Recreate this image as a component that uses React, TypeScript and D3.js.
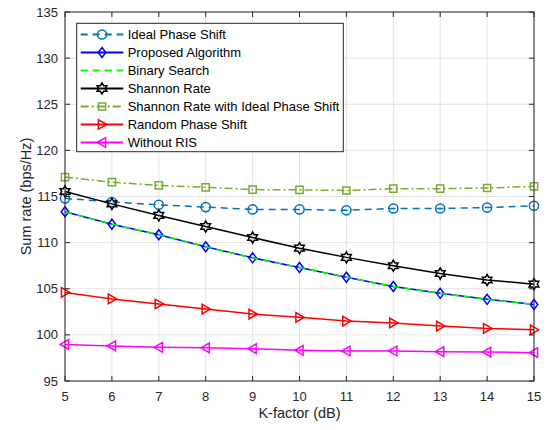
import React from "react";
import * as d3 from "d3";

const kFactor = [5, 6, 7, 8, 9, 10, 11, 12, 13, 14, 15];
const idealPhaseShift = [114.8, 114.4, 114.1, 113.85, 113.6, 113.6, 113.5, 113.7, 113.7, 113.8, 114.0];
const proposedAlgorithm = [113.35, 112.0, 110.85, 109.55, 108.35, 107.3, 106.25, 105.25, 104.5, 103.85, 103.3];
const binarySearch = [113.35, 112.0, 110.85, 109.55, 108.35, 107.3, 106.25, 105.25, 104.5, 103.85, 103.3];
const shannonRate = [115.55, 114.2, 112.95, 111.75, 110.55, 109.4, 108.4, 107.5, 106.65, 105.95, 105.5];
const shannonIdeal = [117.1, 116.55, 116.2, 116.0, 115.75, 115.72, 115.65, 115.85, 115.85, 115.92, 116.1];
const randomPhaseShift = [104.6, 103.9, 103.35, 102.8, 102.25, 101.9, 101.5, 101.3, 100.95, 100.7, 100.55];
const withoutRIS = [98.97, 98.8, 98.65, 98.6, 98.5, 98.32, 98.25, 98.25, 98.18, 98.14, 98.07];

const xTicks = [5, 6, 7, 8, 9, 10, 11, 12, 13, 14, 15];
const yTicks = [95, 100, 105, 110, 115, 120, 125, 130, 135];

type Marker = "circle" | "diamond" | "none" | "hexagram" | "square" | "triRight" | "triLeft";

const series: { name: string; values: number[]; color: string; dash: string; marker: Marker }[] = [
  { name: "Ideal Phase Shift", values: idealPhaseShift, color: "#0072BD", dash: "7,5", marker: "circle" },
  { name: "Proposed Algorithm", values: proposedAlgorithm, color: "#0000FF", dash: "", marker: "diamond" },
  { name: "Binary Search", values: binarySearch, color: "#00FF00", dash: "7,5", marker: "none" },
  { name: "Shannon Rate", values: shannonRate, color: "#000000", dash: "", marker: "hexagram" },
  { name: "Shannon Rate with Ideal Phase Shift", values: shannonIdeal, color: "#77AC30", dash: "8,3,2,3", marker: "square" },
  { name: "Random Phase Shift", values: randomPhaseShift, color: "#FF0000", dash: "", marker: "triRight" },
  { name: "Without RIS", values: withoutRIS, color: "#FF00FF", dash: "", marker: "triLeft" },
];

function markerPath(m: Marker): string {
  switch (m) {
    case "circle":
      return "M4.6,0A4.6,4.6 0 1,1 -4.6,0A4.6,4.6 0 1,1 4.6,0Z";
    case "diamond":
      return "M0,-5L3.8,0L0,5L-3.8,0Z";
    case "square":
      return "M-3.6,-3.6L3.6,-3.6L3.6,3.6L-3.6,3.6Z";
    case "triRight":
      return "M4.8,0L-3.6,-4.8L-3.6,4.8Z";
    case "triLeft":
      return "M-4.8,0L3.6,-4.8L3.6,4.8Z";
    case "hexagram": {
      const R = 5.6;
      const r = R / Math.sqrt(3);
      const pts: string[] = [];
      for (let i = 0; i < 12; i++) {
        const a = -Math.PI / 2 + (i * Math.PI) / 6;
        const rad = i % 2 === 0 ? R : r;
        pts.push(`${(rad * Math.cos(a)).toFixed(2)},${(rad * Math.sin(a)).toFixed(2)}`);
      }
      return "M" + pts.join("L") + "Z";
    }
    default:
      return "";
  }
}

export default function App() {
  const W = 550, H = 430;
  const left = 65, right = 534, top = 12, bottom = 381;
  const x = d3.scaleLinear().domain([5, 15]).range([left, right]);
  const y = d3.scaleLinear().domain([95, 135]).range([bottom, top]);
  const font = "'Liberation Sans', Arial, Helvetica, sans-serif";
  const axisColor = "#262626";
  const tickLen = 5;

  const line = d3
    .line<number>()
    .x((_, i) => x(kFactor[i]))
    .y((d) => y(d));

  const legX = 76.7, legY = 23.3, legW = 266.6, legH = 128.4;
  const rowY0 = 34.5, rowStep = 18;

  return (
    <svg width={W} height={H} style={{ position: "absolute", left: 0, top: 0, background: "#fff" }} fontFamily={font}>
      <rect x={0} y={0} width={W} height={H} fill="#fff" />
      {/* grid */}
      {xTicks.map((t) => (
        <line key={"gx" + t} x1={x(t)} x2={x(t)} y1={top} y2={bottom} stroke="#dcdcdc" strokeWidth={0.8} />
      ))}
      {yTicks.map((t) => (
        <line key={"gy" + t} x1={left} x2={right} y1={y(t)} y2={y(t)} stroke="#dcdcdc" strokeWidth={0.8} />
      ))}
      {/* series */}
      {series.map((s) => (
        <g key={s.name}>
          <path d={line(s.values) || ""} fill="none" stroke={s.color} strokeWidth={1.5} strokeDasharray={s.dash || undefined} />
          {s.marker !== "none" &&
            s.values.map((v, i) => (
              <path
                key={i}
                d={markerPath(s.marker)}
                transform={`translate(${x(kFactor[i])},${y(v)})`}
                fill="none"
                stroke={s.color}
                strokeWidth={1.5}
              />
            ))}
        </g>
      ))}
      {/* axes box */}
      <rect x={left} y={top} width={right - left} height={bottom - top} fill="none" stroke={axisColor} strokeWidth={1} />
      {xTicks.map((t) => (
        <g key={"tx" + t}>
          <line x1={x(t)} x2={x(t)} y1={bottom} y2={bottom - tickLen} stroke={axisColor} />
          <line x1={x(t)} x2={x(t)} y1={top} y2={top + tickLen} stroke={axisColor} />
          <text x={x(t)} y={401} textAnchor="middle" fontSize={13} fill={axisColor}>
            {t}
          </text>
        </g>
      ))}
      {yTicks.map((t) => (
        <g key={"ty" + t}>
          <line x1={left} x2={left + tickLen} y1={y(t)} y2={y(t)} stroke={axisColor} />
          <line x1={right} x2={right - tickLen} y1={y(t)} y2={y(t)} stroke={axisColor} />
          <text x={58} y={y(t) + 4.6} textAnchor="end" fontSize={13} fill={axisColor}>
            {t}
          </text>
        </g>
      ))}
      <text x={(left + right) / 2} y={418} textAnchor="middle" fontSize={14.5} fill={axisColor}>
        K-factor (dB)
      </text>
      <text
        transform={`translate(31,${(top + bottom) / 2}) rotate(-90)`}
        textAnchor="middle"
        fontSize={14.5}
        fill={axisColor}
      >
        Sum rate (bps/Hz)
      </text>
      {/* legend */}
      <rect x={legX} y={legY} width={legW} height={legH} fill="#fff" stroke={axisColor} strokeWidth={1} />
      {series.map((s, i) => {
        const ry = rowY0 + i * rowStep;
        return (
          <g key={"leg" + s.name}>
            <line x1={80.7} x2={123.3} y1={ry} y2={ry} stroke={s.color} strokeWidth={1.8} strokeDasharray={s.dash || undefined} />
            {s.marker !== "none" && (
              <path d={markerPath(s.marker)} transform={`translate(102,${ry})`} fill="none" stroke={s.color} strokeWidth={1.5} />
            )}
            <text x={127.7} y={ry + 4.6} fontSize={13} fill="#000">
              {s.name}
            </text>
          </g>
        );
      })}
    </svg>
  );
}
